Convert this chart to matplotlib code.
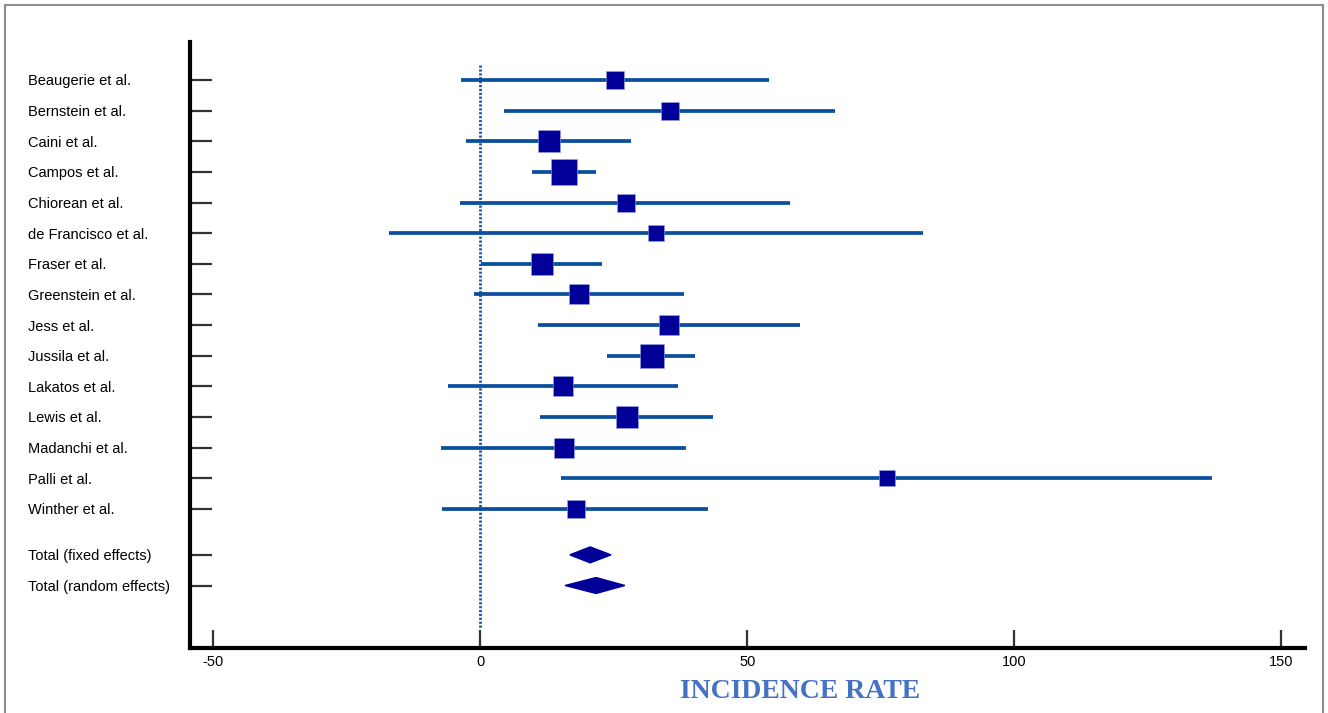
import numpy as np
import matplotlib
matplotlib.use('Agg')
import matplotlib.pyplot as plt
from matplotlib.patches import Rectangle, Polygon

plt.rcParams['font.family'] = ['Liberation Sans', 'DejaVu Sans']

# --- data ---
studies = ['Beaugerie et al.', 'Bernstein et al.', 'Caini et al.', 'Campos et al.',
           'Chiorean et al.', 'de Francisco et al.', 'Fraser et al.', 'Greenstein et al.',
           'Jess et al.', 'Jussila et al.', 'Lakatos et al.', 'Lewis et al.',
           'Madanchi et al.', 'Palli et al.', 'Winther et al.']
estimate = [25.3, 35.5, 12.9, 15.7, 27.3, 32.9, 11.6, 18.5, 35.4, 32.2, 15.6, 27.5, 15.7, 76.1, 18.0]
ci_low = [-3.6, 4.5, -2.6, 9.7, -3.7, -17.0, 0.2, -1.1, 10.9, 23.8, -6.0, 11.2, -7.3, 15.2, -7.1]
ci_high = [54.1, 66.4, 28.3, 21.7, 58.0, 82.9, 22.8, 38.2, 59.9, 40.2, 37.0, 43.6, 38.5, 137.0, 42.7]
weight = [5.1, 5.1, 7.8, 11.0, 5.1, 4.5, 8.5, 6.4, 6.4, 10.1, 6.4, 7.8, 6.4, 4.5, 5.1]

pooled_labels = ['Total (fixed effects)', 'Total (random effects)']
pooled_est = [20.6, 21.7]
pooled_low = [16.8, 15.9]
pooled_high = [24.5, 27.1]

xticks = [-50, 0, 50, 100, 150]

# --- figure ---
fig = plt.figure(figsize=(13.28, 7.13), dpi=100)
ax = fig.add_axes([190 / 1328, 1 - 648 / 713, 1115 / 1328, 606 / 713])

ci_color = '#0a4f9e'
mark_color = '#000099'

y_study = np.arange(len(studies))
y_pooled = len(studies) - 1 + np.array([1.5, 2.5])

# reference line at zero
ax.plot([0, 0], [-0.49, 17.9], color='#1a56b0', lw=2.0, ls=(0, (0.8, 0.6)), zorder=1)

# study rows
for y, est, lo, hi, w in zip(y_study, estimate, ci_low, ci_high, weight):
    ax.plot([lo, hi], [y, y], color=ci_color, lw=2.7, solid_capstyle='butt', zorder=2)
    size_px = 7.54 * np.sqrt(w)
    ax.plot(est, y, marker='s', ms=size_px * 0.72, color=mark_color,
            mec='#9aa6e0', mew=0.4, zorder=3)

# pooled diamonds
half_h = [0.26, 0.26]
for y, est, lo, hi, h in zip(y_pooled, pooled_est, pooled_low, pooled_high, half_h):
    ax.add_patch(Polygon([[lo, y], [est, y - h], [hi, y], [est, y + h]],
                         closed=True, color=mark_color, zorder=3))

ax.set_xlim(-54.3, 154.4)
ax.set_ylim(18.54, -1.24)

ax.set_yticks(list(y_study) + list(y_pooled))
ax.set_yticklabels(studies + pooled_labels, fontsize=10.5, ha='left')
ax.tick_params(axis='y', direction='in', length=16, width=1.6, color='#333333', pad=117)

ax.set_xticks(xticks)
ax.set_xticklabels([str(t) for t in xticks], fontsize=10.5)
ax.tick_params(axis='x', direction='in', length=13, width=1.6, color='#333333', pad=5)

for s in ['top', 'right']:
    ax.spines[s].set_visible(False)
for s in ['left', 'bottom']:
    ax.spines[s].set_linewidth(3)
    ax.spines[s].set_color('black')
    ax.spines[s].set_capstyle('projecting')

fig.text(800 / 1328, 1 - 692 / 713, 'INCIDENCE RATE', ha='center', va='center',
         fontsize=20, fontweight='bold', family=['Liberation Serif', 'DejaVu Serif'],
         color='#4472c4')

# grey frame around the whole picture
fig.patches.append(Rectangle((5 / 1328, -0.05), 1318 / 1328, 1.05 - 5 / 713,
                             transform=fig.transFigure, fill=False,
                             edgecolor='#8c8c8c', lw=1.5))

fig.savefig('out.png', dpi=100)
